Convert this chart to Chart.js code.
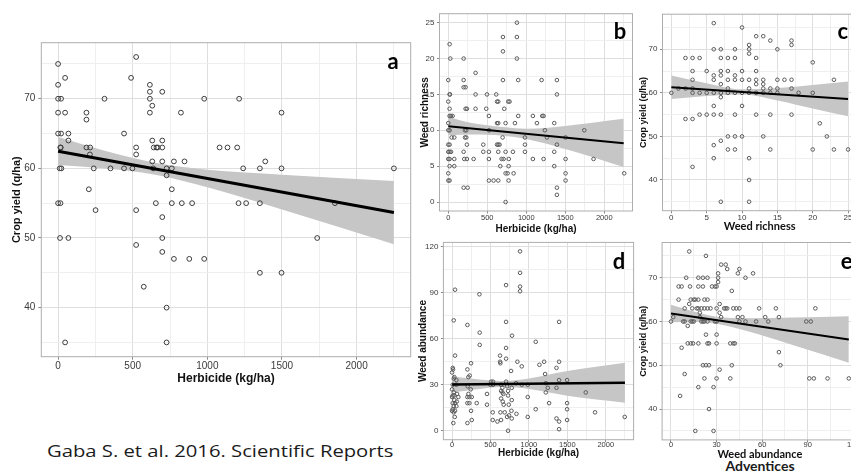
<!DOCTYPE html>
<html>
<head>
<meta charset="utf-8">
<script src="https://cdn.jsdelivr.net/npm/chart.js@4.4.1/dist/chart.umd.min.js"></script>
<style>
  html, body { margin: 0; padding: 0; background: #fff; }
  body { position: relative; width: 851px; height: 472px; overflow: hidden; }
  canvas { position: absolute; }
  .note { position: absolute; white-space: nowrap; color: #1b1b1b; line-height: 1; }
</style>
</head>
<body>
<div class="note" style="left:47px; top:442px; font-family:'Open Sans'; font-size:17px; transform:scaleX(1.19); transform-origin:left center;">Gaba S. et al. 2016. Scientific Reports</div>
<div class="note" style="left:760px; top:458.5px; transform:translateX(-50%); font-family:Lato; font-weight:bold; font-size:14px;">Adventices</div>
<script>
Chart.defaults.font.family = "'Liberation Sans', Arial, sans-serif";

// tick values
const herbicideTicks = [0, 500, 1000, 1500, 2000];
const herbicideMinor = [250, 750, 1250, 1750, 2250];
const yieldTicks = [40, 50, 60, 70];
const yieldMinor = [35, 45, 55, 65, 75];
const richnessTicks = [0, 5, 10, 15, 20, 25];
const richnessMinor = [2.5, 7.5, 12.5, 17.5, 22.5];
const abundanceTicks = [0, 30, 60, 90, 120];
const abundanceMinor = [15, 45, 75, 105];

// a: crop yield vs herbicide
const aHerbicide = [0,0,0,20,0,47,0,20,69,69, 18,15,11,22,0,16,13,69,47,47, 190,190,190,215,213,239,206,251,311,351,
  442,442,498,489,523,523,523,523,523,574, 615,615,615,615,631,631,631,637,641,659, 668,655,698,698,698,698,698,698,698,727,
  727,727,727,762,762,762,776,776,823,829, 847,879,898,979,979,1082,1135,1200,1213,1209, 1240,1260,1352,1352,1352,1388,1497,1497,1497,1736,
  1855,2250];
const aYield = [75,72,70,70,68,68,65,65,65,64, 63,63,60,60,55,55,50,50,35,73, 68,67,63,63,62,60,57,54,70,60,
  65,60,60,73,76,63,62,54,49,43, 72,71,70,68,69,64,61,60,63,63, 63,55,71,64,63,61,53,50,48,60,
  59,40,35,57,60,55,61,47,68,55, 61,47,55,70,47,63,63,63,70,55, 60,55,60,55,45,61,68,60,45,50,
  55,60];
const aFitX = [0, 2250];
const aFitY = [62.45, 53.65];
const aBandX = [0, 300, 650, 1000, 1500, 2250];
const aBandHi = [64.5, 62.6, 60.8, 59.8, 59.1, 58.2];
const aBandLo = [60.5, 60.0, 59.1, 57.3, 54.1, 49.1];

// b: weed richness vs herbicide
const bHerbicide = [0,0,17,22,17,26,0,17,17,34, 0,0,17,0,17,0,17,0,17,17, 0,17,55,43,77,77,77,35,197,197,
  197,222,222,239,214,231,214,231,239,197, 205,239,197,248,350,350,350,325,449,449, 487,496,521,521,521,521,521,581,641,615,
  625,641,625,641,625,641,658,641,667,684, 709,697,701,701,701,718,735,735,735,761, 735,769,786,776,774,774,829,838,855,880,
  880,880,897,897,983,983,983,1085,1085,1137, 1197,1205,1222,1222,1239,1265,1359,1359,1359,1393, 1393,1393,1393,1393,1504,1504,1504,1504,1744,1863,
  2256];
const bRichness = [4,14,15,15,22,20,17,13,12,12, 11,10,10,8,8,7,7,6,6,5, 3,3,12,9,9,6,5,7,20,17,
  16,16,13,13,10,10,9,9,8,7, 6,6,2,2,18,15,13,6,8,7, 13,15,12,10,7,6,3,3,3,15,
  14,14,11,11,8,8,8,7,5,6, 6,9,23,21,17,13,11,7,4,4, 0,14,14,6,5,3,7,4,11,25,
  23,20,17,12,9,8,7,12,6,11, 17,12,12,6,10,9,11,7,5,17, 15,8,2,1,9,6,4,3,10,6,
  4];
const bFitX = [0, 2250];
const bFitY = [10.55, 8.2];
const bBandX = [0, 300, 700, 1000, 1500, 2250];
const bBandHi = [11.9, 11.0, 10.45, 10.2, 10.6, 11.6];
const bBandLo = [9.3, 9.4, 9.25, 8.8, 7.4, 4.9];

// c: crop yield vs weed richness
const cRichness = [0,1,2,2,3,4,2,3,3,3, 3,3,3,4,4,5,5,5,6,6, 6,6,6,6,6,6,6,7,7,7,
  7,7,7,7,7,7,7,8,8,8, 8,8,8,8,9,9,9,9,9,9, 9,9,10,10,10,10,10,10,11,11,
  11,11,11,11,11,11,11,12,12,12, 12,12,12,12,13,13,13,13,13,13, 14,14,14,14,14,15,15,15,15,16,
  17,17,17,17,17,18,20,20,20,21, 22,23,23,25];
const cYield = [60,61,61,68,68,68,54,54,65,63, 61,60,43,60,55,65,60,55,76,70, 64,63,60,57,55,48,45,70,68,65,
  64,62,60,59,55,49,35,68,65,63, 61,60,50,47,70,68,64,63,60,55, 50,47,75,65,63,60,57,50,71,70,
  69,63,61,60,45,40,35,73,68,65, 63,62,60,55,73,63,62,61,60,50, 72,61,60,55,47,70,63,61,60,63,
  72,71,63,61,55,60,67,60,47,53, 50,47,63,47];
const cFitX = [0, 25];
const cFitY = [61.3, 58.6];
const cBandX = [0, 5, 10, 15, 20, 25];
const cBandHi = [64.0, 62.2, 60.8, 61.1, 61.8, 62.6];
const cBandLo = [58.6, 59.3, 59.6, 58.25, 56.4, 54.6];

// d: weed abundance vs herbicide
const dHerbicide = [39,22,39,9,13,0,30,22,56,9, 56,0,22,65,82,9,30,0,30,61, 9,39,22,56,9,39,0,22,35,17,
  356,360,360,200,200,213,230,247,204,213, 200,226,243,256,200,226,247,256,200,321, 455,455,499,508,534,534,529,529,590,625,
  629,625,638,638,638,629,638,655,655,668, 660,672,685,703,703,703,703,703,716,729, 729,738,716,742,729,777,777,768,781,777,
  773,833,850,838,885,885,885,885,907,907, 985,985,985,1089,1089,1137,1198,1211,1220,1220, 1246,1263,1359,1359,1359,1393,1393,1393,1393,1393,
  1497,1497,1497,1497,1740,1861,2247];
const dAbundance = [92,72,49,41,40,38,35,34,33,30, 30,27,25,24,22,23,23,22,20,19, 18,18,16,16,14,13,13,12,9,5,
  89,64,56,69,40,35,36,44,29,24, 22,22,27,22,18,18,13,7,5,18, 24,17,30,32,32,30,12,7,6,49,
  44,45,30,26,21,12,7,28,25,24, 19,17,12,95,71,54,47,32,29,26, 23,17,9,10,0,28,20,39,62,8,
  13,31,45,11,117,103,94,91,42,30, 30,22,9,58,14,43,45,37,31,25, 28,18,28,41,8,45,71,33,6,1,
  33,18,14,7,25,12,9];
const dFitX = [0, 2250];
const dFitY = [30.2, 31.3];
const dBandX = [0, 300, 650, 1000, 1500, 2250];
const dBandHi = [35.4, 33.8, 32.5, 34.1, 38.9, 44.3];
const dBandLo = [25.0, 26.9, 28.5, 27.3, 22.9, 18.3];

// e: crop yield vs weed abundance
const eAbundance = [0,1.5,5,5,7,10,9,9,8,7, 9,6,12,12,12.5,13,15,16,18,13, 14,15,11,13,14.5,11,14,17,18,20,
  18,21,24,18,21,19,19,20,21,22, 24,18,18,23,23,22,24,26,22,24, 21,23,25,22,24,25,25,16,28,27,
  29,30,31,31,31,30,29,30,30,30, 30,28,32,32,32,33,33,36,37,35, 36,37,39,41,42,39,40,40,41,43,
  45,44,47,44,45,45,49,49,54,56, 58,62,64,69,71,71,72,89,92,95, 91,94,103,117];
const eYield = [60,61,65,68,68,70,63,60,60,54, 48,43,76,64,68,65,65,65,65,60, 60,60,55,55,55,59,63,63,63,63,
  70,70,70,68,68,62,61,60,60,60, 60,55,45,75,57,63,63,63,65,65, 50,50,50,47,55,55,40,35,35,68,
  68,68,70,69,71,63,60,60,55,57, 47,45,49,64,62,61,73,73,72,63, 63,63,55,55,55,47,50,67,63,63,
  63,61,61,71,72,60,70,60,71,60, 63,61,60,63,61,53,50,60,60,63, 47,47,47,47];
const eFitX = [0, 117];
const eFitY = [61.85, 55.9];
const eBandX = [0, 15, 30, 50, 80, 117];
const eBandHi = [63.85, 62.3, 61.1, 60.75, 60.9, 61.2];
const eBandLo = [59.85, 59.9, 59.5, 57.85, 54.66, 50.6];

const pairs = (xs, ys) => xs.map((x, i) => ({ x, y: ys[i] }));

// ggplot-like frame + panel letter
const panelFrame = {
  id: 'panelFrame',
  afterDatasetsDraw(chart, args, o) {
    const { ctx, chartArea: ca } = chart;
    ctx.save();
    ctx.strokeStyle = '#adadad';
    ctx.lineWidth = 1;
    ctx.strokeRect(ca.left, ca.top, ca.right - ca.left, ca.bottom - ca.top);
    ctx.fillStyle = '#000';
    ctx.font = 'bold 22px Lato';
    ctx.textAlign = 'center';
    ctx.textBaseline = 'middle';
    ctx.fillText(o.letter, ca.right - o.dx, ca.top + o.dy);
    ctx.restore();
  }
};

function axis(o) {
  const isMajor = v => o.major.includes(v);
  return {
    type: 'linear',
    min: o.min,
    max: o.max,
    afterBuildTicks: s => {
      s.ticks = o.major.concat(o.minor).sort((p, q) => p - q).map(v => ({ value: v }));
    },
    afterFit: s => {
      if (o.horizontal) s.height = o.size; else s.width = o.size;
    },
    border: { display: false },
    grid: {
      color: c => (c.tick && isMajor(c.tick.value)) ? '#dedede' : '#efefef',
      lineWidth: 1,
      tickLength: o.tickLen,
      tickColor: c => (c.tick && isMajor(c.tick.value)) ? '#8a8a8a' : 'rgba(0,0,0,0)'
    },
    ticks: {
      autoSkip: false,
      maxRotation: 0,
      padding: o.pad,
      color: '#3a3a3a',
      font: { size: o.fs },
      callback: v => isMajor(v) ? String(v) : ''
    },
    title: { display: true, text: o.title, color: '#111', font: o.titleFont, padding: o.titlePad }
  };
}

function panel(p) {
  const [L, T, W, H] = p.box;
  const [pl, pt, pr, pb] = p.plot;
  const cv = document.createElement('canvas');
  cv.width = W;
  cv.height = H;
  cv.style.left = L + 'px';
  cv.style.top = T + 'px';
  document.body.appendChild(cv);
  p.x.horizontal = true;
  p.x.size = T + H - pb;
  p.y.size = pl - L;

  new Chart(cv, {
    type: 'scatter',
    data: {
      datasets: [
        { type: 'line', data: pairs(p.bandX, p.bandHi), fill: '+1', backgroundColor: '#c6c6c6',
          borderColor: 'rgba(0,0,0,0)', borderWidth: 0, pointRadius: 0, cubicInterpolationMode: 'monotone', order: 3 },
        { type: 'line', data: pairs(p.bandX, p.bandLo), fill: false,
          borderColor: 'rgba(0,0,0,0)', borderWidth: 0, pointRadius: 0, cubicInterpolationMode: 'monotone', order: 3 },
        { data: pairs(p.xs, p.ys), pointRadius: p.r, pointBorderWidth: 1, pointBorderColor: p.pc,
          pointBackgroundColor: 'rgba(0,0,0,0)', order: 2 },
        { type: 'line', data: pairs(p.fitX, p.fitY), borderColor: '#000', borderWidth: p.lw, pointRadius: 0, order: 1 }
      ]
    },
    options: {
      responsive: false,
      animation: false,
      events: [],
      layout: { padding: { left: 0, bottom: 0, top: pt - T, right: L + W - pr } },
      scales: { x: axis(p.x), y: axis(p.y) },
      plugins: {
        legend: { display: false },
        tooltip: { enabled: false },
        panelFrame: { letter: p.letter, dx: p.dx, dy: p.dy }
      }
    },
    plugins: [panelFrame]
  });
}

const bold = (size, family) => family ? { size, weight: 'bold', family } : { size, weight: 'bold' };

panel({
  box: [0, 0, 420, 400], plot: [41.3, 42.7, 410.7, 356.7],
  xs: aHerbicide, ys: aYield, fitX: aFitX, fitY: aFitY, bandX: aBandX, bandHi: aBandHi, bandLo: aBandLo,
  r: 2.4, pc: '#3c3c3c', lw: 3, letter: 'a', dx: 17.7, dy: 19.3,
  x: { min: -112.5, max: 2362.5, major: herbicideTicks, minor: herbicideMinor, fs: 10, tickLen: 3, pad: 1,
       title: 'Herbicide (kg/ha)', titleFont: bold(12), titlePad: { top: 0, bottom: 14.5 } },
  y: { min: 32.95, max: 78.05, major: yieldTicks, minor: yieldMinor, fs: 10, tickLen: 3, pad: 3,
       title: 'Crop yield (q/ha)', titleFont: bold(11), titlePad: { top: 10.1, bottom: 0 } }
});

panel({
  box: [415, 0, 225, 240], plot: [439.5, 13.7, 632.5, 211],
  xs: bHerbicide, ys: bRichness, fitX: bFitX, fitY: bFitY, bandX: bBandX, bandHi: bBandHi, bandLo: bBandLo,
  r: 1.8, pc: '#5a5a5a', lw: 2, letter: 'b', dx: 12.5, dy: 18,
  x: { min: -112.5, max: 2362.5, major: herbicideTicks, minor: herbicideMinor, fs: 7.5, tickLen: 2.5, pad: 0,
       title: 'Herbicide (kg/ha)', titleFont: bold(10), titlePad: { top: 0, bottom: 5 } },
  y: { min: -1.25, max: 26.25, major: richnessTicks, minor: richnessMinor, fs: 8, tickLen: 2.5, pad: 2.5,
       title: 'Weed richness', titleFont: bold(10), titlePad: { top: 4, bottom: 0 } }
});

panel({
  box: [630, 0, 235, 240], plot: [662.5, 14.2, 856.9, 210.7],
  xs: cRichness, ys: cYield, fitX: cFitX, fitY: cFitY, bandX: cBandX, bandHi: cBandHi, bandLo: cBandLo,
  r: 1.8, pc: '#5a5a5a', lw: 2, letter: 'c', dx: 14, dy: 17.5,
  x: { min: -1.25, max: 26.25, major: richnessTicks, minor: richnessMinor, fs: 8, tickLen: 2.5, pad: 0,
       title: 'Weed richness', titleFont: bold(11, 'Lato'), titlePad: { top: 0, bottom: 6.7 } },
  y: { min: 32.95, max: 78.05, major: yieldTicks, minor: yieldMinor, fs: 8, tickLen: 2.5, pad: 2.5,
       title: 'Crop yield (q/ha)', titleFont: bold(9), titlePad: { top: 8.6, bottom: 0 } }
});

panel({
  box: [415, 230, 225, 242], plot: [443.4, 242.4, 633.6, 439.7],
  xs: dHerbicide, ys: dAbundance, fitX: dFitX, fitY: dFitY, bandX: dBandX, bandHi: dBandHi, bandLo: dBandLo,
  r: 1.8, pc: '#5a5a5a', lw: 2.5, letter: 'd', dx: 14.6, dy: 19.3,
  x: { min: -112.5, max: 2362.5, major: herbicideTicks, minor: herbicideMinor, fs: 7.5, tickLen: 2.5, pad: -2,
       title: 'Herbicide (kg/ha)', titleFont: bold(10), titlePad: { top: 0, bottom: 12.7 } },
  y: { min: -5.85, max: 122.85, major: abundanceTicks, minor: abundanceMinor, fs: 8, tickLen: 2.5, pad: 2.5,
       title: 'Weed abundance', titleFont: bold(10), titlePad: { top: 2, bottom: 0 } }
});

panel({
  box: [630, 230, 235, 242], plot: [662.1, 242.5, 857.7, 439.9],
  xs: eAbundance, ys: eYield, fitX: eFitX, fitY: eFitY, bandX: eBandX, bandHi: eBandHi, bandLo: eBandLo,
  r: 1.8, pc: '#5a5a5a', lw: 2, letter: 'e', dx: 11, dy: 19.2,
  x: { min: -5.85, max: 122.85, major: abundanceTicks, minor: abundanceMinor, fs: 7.5, tickLen: 2.5, pad: -2,
       title: 'Weed abundance', titleFont: bold(11, 'Lato'), titlePad: { top: 0, bottom: 10.5 } },
  y: { min: 32.95, max: 78.05, major: yieldTicks, minor: yieldMinor, fs: 8, tickLen: 2.5, pad: 2.5,
       title: 'Crop yield (q/ha)', titleFont: bold(9), titlePad: { top: 7.9, bottom: 0 } }
});
</script>
</body>
</html>
